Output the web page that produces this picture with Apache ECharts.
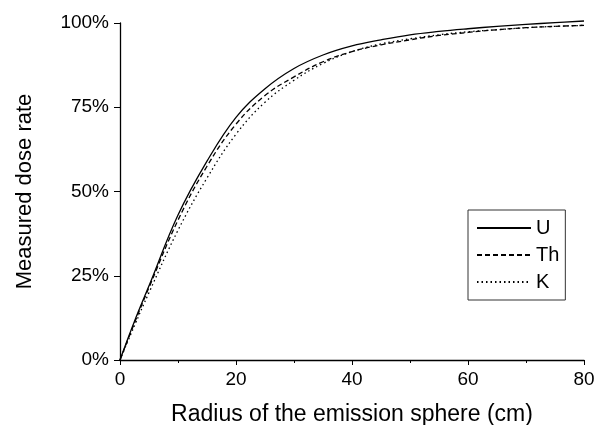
<!DOCTYPE html>
<html><head><meta charset="utf-8">
<script src="https://cdn.jsdelivr.net/npm/echarts@6/dist/echarts.min.js"></script>
<style>html,body{margin:0;padding:0;background:#fff}#c{width:594px;height:425px}</style>
</head><body><div id="c"></div>
<script>
const radius = [0, 2.5, 5, 10, 15, 20, 25, 30, 35, 40, 45, 50, 55, 60, 65, 70, 75, 80];
const uValues  = [0, 11.5, 22, 43, 59, 72, 80.5, 86.5, 90.5, 93.2, 95, 96.5, 97.5, 98.3, 99, 99.6, 100.1, 100.6];
const thValues = [0, 11, 21.5, 41.5, 57.5, 70, 78.5, 84, 88.5, 91.5, 93.5, 95, 96.3, 97.2, 98, 98.6, 99, 99.3];
const kValues  = [0, 10.2, 20, 38.5, 54, 67, 76.5, 83, 88, 91.5, 93.8, 95.3, 96.5, 97.4, 98, 98.6, 99, 99.3];
const yTicks = [0, 25, 50, 75, 100];

const pairs = v => radius.map((r, i) => [r, v[i] / 100]);
const font = 'Liberation Sans, Arial, sans-serif';
const mk = (name, vals, type) => ({
  name, type: 'line', data: pairs(vals), smooth: 0.4, symbol: 'none', showSymbol: false, clip: false,
  lineStyle: { color: '#000', width: 1.3, type }, itemStyle: { color: '#000' }
});
const chart = echarts.init(document.getElementById('c'));
chart.setOption({
  animation: false,
  grid: { left: 120, right: 10, top: 23, bottom: 65, containLabel: false, outerBoundsMode: 'none' },
  legend: {
    left: 468, top: 210, orient: 'vertical', itemWidth: 54, itemHeight: 14, itemGap: 7,
    padding: [8, 6, 8, 8], borderColor: '#333', borderWidth: 1,
    itemStyle: { color: 'rgba(0,0,0,0)', borderWidth: 0, opacity: 0 },
    lineStyle: { opacity: 1 },
    textStyle: { fontSize: 20, fontFamily: font, color: '#000', padding: [0, 0, 0, 0] },
    data: ['U', 'Th', 'K']
  },
  xAxis: {
    type: 'value', min: 0, max: 80, interval: 20,
    name: 'Radius of the emission sphere (cm)', nameLocation: 'middle', nameGap: 43,
    nameTextStyle: { fontSize: 23, fontFamily: font, color: '#000' },
    axisLine: { lineStyle: { color: '#000', width: 1.3 } },
    axisTick: { length: 5, lineStyle: { color: '#000' } },
    minorTick: { show: true, splitNumber: 2, length: 3, lineStyle: { color: '#000' } },
    axisLabel: { fontSize: 19, fontFamily: font, color: '#000', margin: 10 },
    splitLine: { show: false }
  },
  yAxis: {
    type: 'value', min: 0, max: 1, interval: 0.25,
    name: 'Measured dose rate', nameLocation: 'middle', nameGap: 84,
    nameTextStyle: { fontSize: 22, fontFamily: font, color: '#000' },
    axisLine: { show: true, lineStyle: { color: '#000', width: 1.3 } },
    axisTick: { show: true, length: 6, lineStyle: { color: '#000' } },
    axisLabel: { fontSize: 19, fontFamily: font, color: '#000', margin: 11,
      formatter: v => { const p = Math.round(v * 100); return yTicks.includes(p) ? p + '%' : ''; } },
    splitLine: { show: false }
  },
  series: [mk('U', uValues, 'solid'), mk('Th', thValues, [5, 3]), mk('K', kValues, [1.5, 3])]
});
</script></body></html>
